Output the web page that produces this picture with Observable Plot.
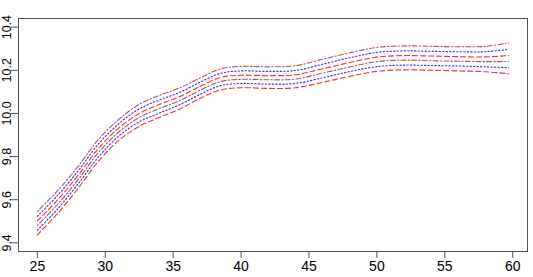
<!DOCTYPE html>
<html>
<head>
<meta charset="utf-8">
<script src="https://cdn.jsdelivr.net/npm/d3@7"></script>
<script src="https://cdn.jsdelivr.net/npm/@observablehq/plot@0.6"></script>
<style>
  html, body { margin: 0; padding: 0; background: #fff; }
</style>
</head>
<body>
<div id="chart"></div>
<script>
// Age grid
const ages = [25, 26.5, 28, 29.5, 31, 32.5, 34, 35.5, 37, 38.5, 40, 42, 44, 46, 48, 50, 52, 54, 56, 58, 59.7];

// Six curves, top to bottom
const dashdotUpper = [9.546, 9.643, 9.755, 9.880, 9.973, 10.042, 10.084, 10.119, 10.165, 10.207, 10.218, 10.216, 10.221, 10.251, 10.281, 10.306, 10.313, 10.311, 10.309, 10.311, 10.327];
const dottedUpper  = [9.523, 9.621, 9.733, 9.859, 9.952, 10.021, 10.063, 10.098, 10.145, 10.186, 10.197, 10.195, 10.199, 10.228, 10.258, 10.283, 10.290, 10.288, 10.286, 10.286, 10.297];
const dashedUpper  = [9.502, 9.600, 9.713, 9.838, 9.933, 10.000, 10.042, 10.079, 10.126, 10.167, 10.177, 10.175, 10.179, 10.207, 10.236, 10.261, 10.268, 10.266, 10.263, 10.262, 10.268];
const dashdotLower = [9.481, 9.579, 9.693, 9.819, 9.914, 9.981, 10.023, 10.060, 10.108, 10.148, 10.158, 10.156, 10.159, 10.187, 10.215, 10.240, 10.247, 10.244, 10.242, 10.240, 10.241];
const dottedLower  = [9.459, 9.558, 9.673, 9.798, 9.895, 9.961, 10.002, 10.041, 10.089, 10.129, 10.139, 10.136, 10.139, 10.165, 10.194, 10.217, 10.224, 10.222, 10.220, 10.216, 10.212];
const dashedLower  = [9.437, 9.537, 9.653, 9.778, 9.875, 9.940, 9.982, 10.021, 10.070, 10.109, 10.119, 10.116, 10.119, 10.144, 10.172, 10.195, 10.202, 10.200, 10.197, 10.193, 10.184];

const xTicks = [25, 30, 35, 40, 45, 50, 55, 60];
const yTicks = [9.4, 9.6, 9.8, 10.0, 10.2, 10.4];
const yTickLabels = ["9.4", "9.6", "9.8", "10.0", "10.2", "10.4"];

const toRows = (vals) => ages.map((a, i) => ({x: a, y: vals[i]}));

const styles = {
  dashed:  {stroke: "#f03030", strokeDasharray: "5,3"},
  dotted:  {stroke: "#2a2af0", strokeDasharray: "1.3,2.2"},
  dashdot: {stroke: "#b4505a", strokeDasharray: "1.3,2.2,5,2.2"}
};

const series = [
  [dashdotUpper, "dashdot"],
  [dottedUpper, "dotted"],
  [dashedUpper, "dashed"],
  [dashdotLower, "dashdot"],
  [dottedLower, "dotted"],
  [dashedLower, "dashed"]
];

const lineMarks = series.map(([vals, kind]) =>
  Plot.line(toRows(vals), {x: "x", y: "y", curve: "catmull-rom", strokeWidth: 1.1, ...styles[kind]})
);

const chart = Plot.plot({
  width: 533,
  height: 277,
  marginLeft: 18,
  marginRight: 6,
  marginTop: 18,
  marginBottom: 26,
  style: {fontFamily: "'Liberation Sans', Arial, sans-serif", background: "#fff", color: "#000"},
  x: {domain: [23.61, 61.09]},
  y: {domain: [9.36, 10.44]},
  marks: [
    ...lineMarks,
    Plot.frame({stroke: "#555"}),
    Plot.axisX({ticks: xTicks, tickSize: 7, tickPadding: 3, fontSize: 14, label: null, stroke: "#555", tickFormat: d => String(d)}),
    Plot.axisY({ticks: yTicks, tickSize: 7, label: null, stroke: "#555", tickFormat: () => ""}),
    Plot.text(yTicks, {y: d => d, text: (d, i) => yTickLabels[i], frameAnchor: "left", dx: -8, rotate: -90, lineAnchor: "bottom", textAnchor: "middle", fontSize: 12.5, fill: "#000"})
  ]
});
document.getElementById("chart").appendChild(chart);
</script>
</body>
</html>
